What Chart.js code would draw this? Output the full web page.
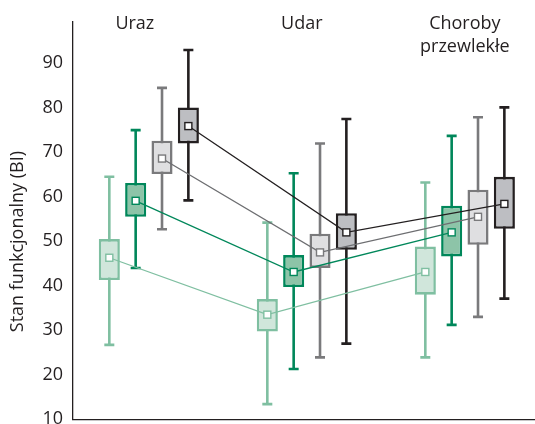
<!DOCTYPE html>
<html>
<head>
<meta charset="utf-8">
<script src="https://cdn.jsdelivr.net/npm/chart.js@4/dist/chart.umd.min.js"></script>
<style>
  html, body { margin: 0; padding: 0; overflow: hidden; background: #fff; }
</style>
</head>
<body>
<canvas id="chart" width="547" height="440"></canvas>
<script>
// groups along the x axis
const categories = ['Uraz', 'Udar', 'Choroby przewlekłe'];
const yTitle = 'Stan funkcjonalny (BI)';

// one row per series (light green, dark green, light gray, dark gray), one value per group
const whiskerLow  = [[26.7, 13.4, 23.9], [44.0, 21.3, 31.2], [52.7, 23.9, 33.0], [59.2, 27.0, 37.1]];
const boxLow      = [[41.3, 29.7, 38.0], [55.5, 39.7, 46.6], [65.1, 44.0, 49.2], [72.0, 48.1, 52.8]];
const means       = [[46.3, 33.5, 43.1], [59.1, 43.1, 52.0], [68.6, 47.5, 55.5], [75.9, 52.0, 58.4]];
const boxHigh     = [[50.5, 37.0, 48.8], [63.1, 46.9, 58.0], [72.6, 51.7, 61.6], [80.1, 56.3, 64.5]];
const whiskerHigh = [[64.5, 54.2, 63.2], [75.0, 65.3, 73.7], [84.5, 72.0, 77.9], [93.0, 77.5, 80.1]];

const yTicks = [10, 20, 30, 40, 50, 60, 70, 80, 90];

const fills   = ['#d0e6db', '#8dc4a8', '#dfdfe1', '#bdbec2'];
const strokes = ['#7fbfa1', '#00875a', '#7a7a7c', '#231f20'];
const links   = ['#7fbfa1', '#00875a', '#6d6e71', '#231f20'];
const textColor = '#231f20';

const boxPlot = {
  id: 'boxPlot',
  // whiskers behind the boxes
  beforeDatasetsDraw(chart) {
    const ctx = chart.ctx;
    const y = chart.scales.y;
    chart.data.datasets.forEach((ds, i) => {
      const meta = chart.getDatasetMeta(i);
      meta.data.forEach((bar, j) => {
        const top = y.getPixelForValue(whiskerHigh[i][j]);
        const bot = y.getPixelForValue(whiskerLow[i][j]);
        ctx.save();
        ctx.strokeStyle = strokes[i];
        ctx.lineWidth = 2.6;
        ctx.beginPath();
        ctx.moveTo(bar.x, top);
        ctx.lineTo(bar.x, bot);
        ctx.moveTo(bar.x - 5, top);
        ctx.lineTo(bar.x + 5, top);
        ctx.moveTo(bar.x - 5, bot);
        ctx.lineTo(bar.x + 5, bot);
        ctx.stroke();
        ctx.restore();
      });
    });
  },
  // mean lines and markers on top
  afterDatasetsDraw(chart) {
    const ctx = chart.ctx;
    const y = chart.scales.y;
    chart.data.datasets.forEach((ds, i) => {
      const meta = chart.getDatasetMeta(i);
      ctx.save();
      ctx.strokeStyle = links[i];
      ctx.lineWidth = 1.3;
      ctx.beginPath();
      meta.data.forEach((bar, j) => {
        const py = y.getPixelForValue(means[i][j]);
        if (j === 0) ctx.moveTo(bar.x, py);
        else ctx.lineTo(bar.x, py);
      });
      ctx.stroke();
      ctx.restore();
    });
    chart.data.datasets.forEach((ds, i) => {
      const meta = chart.getDatasetMeta(i);
      meta.data.forEach((bar, j) => {
        const py = y.getPixelForValue(means[i][j]);
        ctx.save();
        ctx.fillStyle = '#fff';
        ctx.strokeStyle = strokes[i];
        ctx.lineWidth = 1.4;
        ctx.fillRect(bar.x - 3.5, py - 3.5, 7, 7);
        ctx.strokeRect(bar.x - 3.5, py - 3.5, 7, 7);
        ctx.restore();
      });
    });
  },
  // group names inside the top of the plot, axis title on the left
  afterDraw(chart) {
    const ctx = chart.ctx;
    const x = chart.scales.x;
    const area = chart.chartArea;
    const nudge = [-14, -5, 0];
    ctx.save();
    ctx.fillStyle = textColor;
    ctx.font = '18px "Open Sans"';
    ctx.textAlign = 'center';
    ctx.textBaseline = 'middle';
    categories.forEach((name, j) => {
      const cx = x.getPixelForValue(j) + nudge[j];
      name.split(' ').forEach((w, k) => ctx.fillText(w, cx, area.top + 2 + k * 23));
    });
    ctx.translate(18, (area.top + area.bottom) / 2 + 21);
    ctx.rotate(-Math.PI / 2);
    ctx.font = '18px "Open Sans"';
    ctx.fillText(yTitle, 0, 0);
    ctx.restore();
  }
};

const datasets = fills.map((fill, i) => ({
  data: categories.map((c, j) => ({ x: j, y: [boxLow[i][j], boxHigh[i][j]] })),
  backgroundColor: fill,
  borderColor: strokes[i],
  borderWidth: 2.6,
  borderSkipped: false,
  categoryPercentage: 0.667,
  barPercentage: 0.8
}));

new Chart(document.getElementById('chart'), {
  type: 'bar',
  data: { datasets: datasets },
  options: {
    responsive: false,
    animation: false,
    layout: { padding: { top: 22, bottom: 20, left: 0, right: 0 } },
    plugins: { legend: { display: false }, tooltip: { enabled: false } },
    scales: {
      x: {
        type: 'linear',
        min: -0.48,
        max: 2.52,
        offset: false,
        afterBuildTicks: s => { s.ticks = categories.map((c, j) => ({ value: j })); },
        ticks: { display: false },
        grid: { display: false, drawTicks: false, offset: false },
        border: { display: true, color: textColor, width: 1.3 }
      },
      y: {
        min: 10,
        max: 99.3,
        afterBuildTicks: s => { s.ticks = yTicks.map(v => ({ value: v })); },
        afterFit: s => { s.width = 73; },
        ticks: {
          color: textColor,
          padding: 10,
          font: { family: 'Open Sans', size: 18 }
        },
        grid: { display: false, drawTicks: false },
        border: { display: true, color: textColor, width: 1.3 }
      }
    }
  },
  plugins: [boxPlot]
});
</script>
</body>
</html>
